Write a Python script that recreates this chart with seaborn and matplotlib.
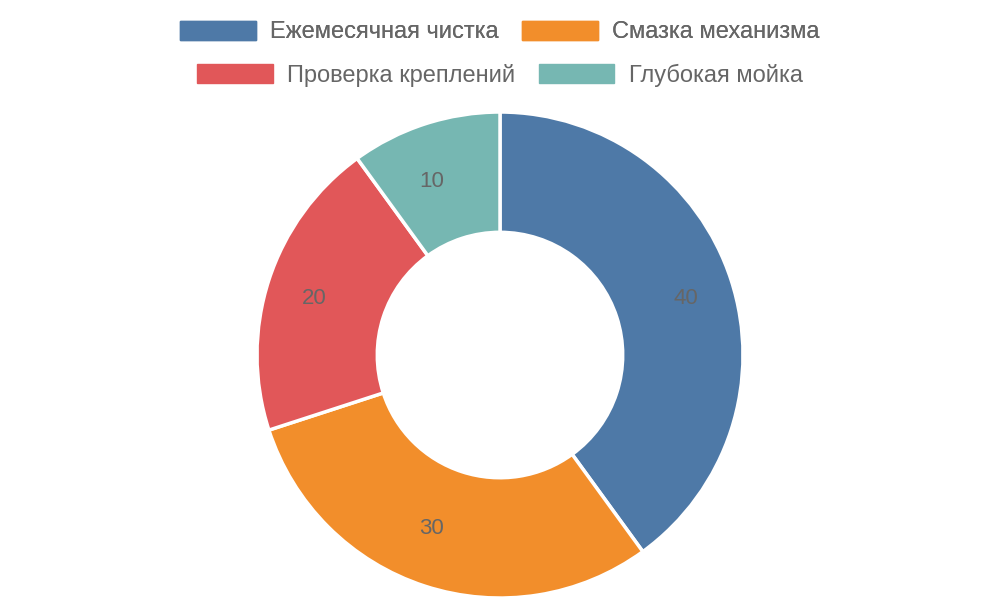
import matplotlib
matplotlib.use("Agg")
import matplotlib.pyplot as plt
import matplotlib.patches as mpatches
import seaborn as sns

categories = ["Ежемесячная чистка", "Смазка механизма", "Проверка креплений", "Глубокая мойка"]
values = [40, 30, 20, 10]
colors = ["#4e79a7", "#f28e2b", "#e15759", "#76b7b2"]

sns.set_theme(style="white")
plt.rcParams['font.family'] = ['Liberation Sans', 'DejaVu Sans']

fig = plt.figure(figsize=(10, 6), dpi=100)
ax = fig.add_axes([0, 0.0033, 1, 0.81])
ax.pie(values, labels=[str(v) for v in values], colors=colors, startangle=90,
       counterclock=False, radius=1, labeldistance=0.75,
       wedgeprops=dict(width=0.495, edgecolor="white", linewidth=2.5),
       textprops=dict(color="#666666", fontsize=16))
ax.set_xlim(-1, 1)
ax.set_ylim(-1, 1)
ax.set_aspect("equal")

handles = [mpatches.Patch(color=c, label=l) for c, l in zip(colors, categories)]
common = dict(ncol=2, frameon=False, fontsize=17, handlelength=3.2, handleheight=0.85,
              columnspacing=1.0, handletextpad=0.6, labelcolor="#666666", loc="center")
leg1 = fig.legend(handles=handles[:2], bbox_to_anchor=(0.5, 1 - 32 / 600), **common)
fig.add_artist(leg1)
fig.legend(handles=handles[2:], bbox_to_anchor=(0.5, 1 - 75 / 600), **common)

fig.savefig("out.png", dpi=100)
